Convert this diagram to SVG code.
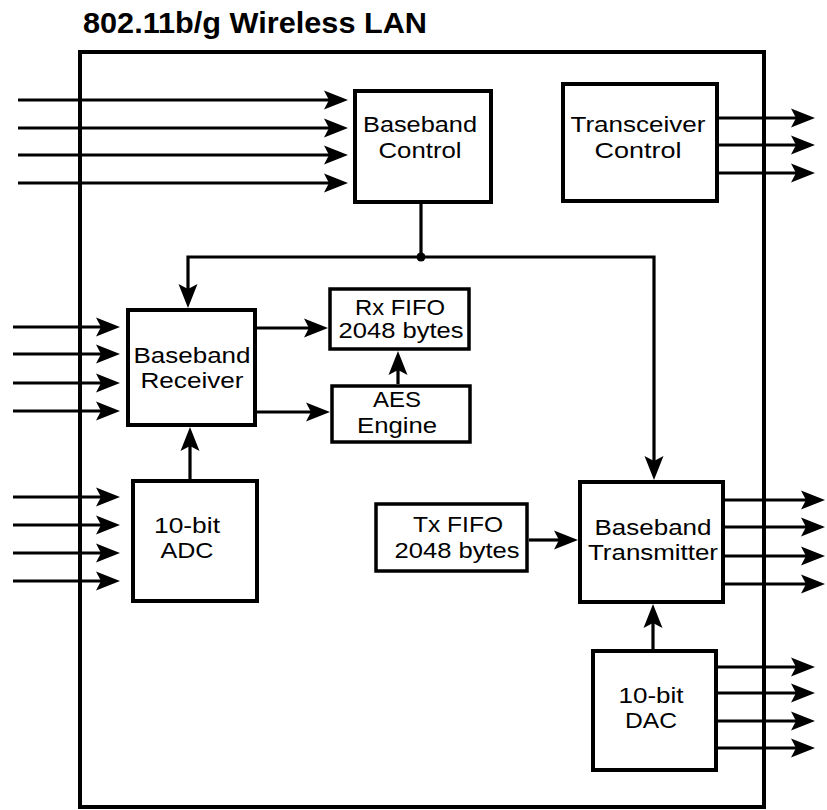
<svg xmlns="http://www.w3.org/2000/svg" width="827" height="810" viewBox="0 0 827 810">
<style>
.box{fill:#fff;stroke:#000;stroke-width:4}
.fifo{fill:#fff;stroke:#000;stroke-width:3.5}
.lbl{font-family:"Liberation Sans",Arial,sans-serif;font-size:22px;fill:#000;text-anchor:middle}
.title{font-family:"Liberation Sans",Arial,sans-serif;font-size:30px;font-weight:bold;fill:#000}
.wire{fill:none;stroke:#000;stroke-width:3.2}
.arr{fill:none;stroke:#000;stroke-width:3.2;marker-end:url(#ah)}
</style>
<defs>
<marker id="ah" markerUnits="userSpaceOnUse" markerWidth="24" markerHeight="20" viewBox="0 0 24 20" refX="5" refY="10" orient="auto">
<path d="M0,0.5 L24,10 L0,19.5 L5,10 z" fill="#000"/>
</marker>
</defs>
<rect width="827" height="810" fill="#fff"/>
<text class="title" x="83" y="33" textLength="344" lengthAdjust="spacingAndGlyphs">802.11b/g Wireless LAN</text>
<rect id="chip" x="80" y="52" width="684" height="755" fill="none" stroke="#000" stroke-width="4"/>

<g id="connectors">
<path class="arr" d="M18,100 H329"/>
<path class="arr" d="M18,128 H329"/>
<path class="arr" d="M18,155 H329"/>
<path class="arr" d="M18,183 H329"/>
<path class="arr" d="M719,118 H796"/>
<path class="arr" d="M719,145 H796"/>
<path class="arr" d="M719,173 H796"/>
<path class="wire" d="M421,204 V257"/>
<circle cx="421" cy="257" r="4.5" fill="#000"/>
<path class="arr" d="M421,257 H188 V289"/>
<path class="arr" d="M421,257 H654 V461"/>
<path class="arr" d="M13,327 H101"/>
<path class="arr" d="M13,354 H101"/>
<path class="arr" d="M13,383 H101"/>
<path class="arr" d="M13,411 H101"/>
<path class="arr" d="M257,328 H309"/>
<path class="arr" d="M257,412 H311"/>
<path class="arr" d="M398,384 V370"/>
<path class="arr" d="M190,479 V446"/>
<path class="arr" d="M13,497 H101"/>
<path class="arr" d="M13,525 H101"/>
<path class="arr" d="M13,553 H101"/>
<path class="arr" d="M13,581 H101"/>
<path class="arr" d="M529,540 H559"/>
<path class="arr" d="M725,500 H806"/>
<path class="arr" d="M725,527 H806"/>
<path class="arr" d="M725,556 H806"/>
<path class="arr" d="M725,584 H806"/>
<path class="arr" d="M653,649 V623"/>
<path class="arr" d="M718,667 H796"/>
<path class="arr" d="M718,693 H796"/>
<path class="arr" d="M718,721 H796"/>
<path class="arr" d="M718,748 H796"/>
</g>

<g id="baseband-control">
<rect class="box" x="355" y="91" width="136" height="111"/>
<text class="lbl" x="420" y="132" textLength="114" lengthAdjust="spacingAndGlyphs">Baseband</text>
<text class="lbl" x="420" y="158" textLength="83" lengthAdjust="spacingAndGlyphs">Control</text>
</g>
<g id="transceiver-control">
<rect class="box" x="563" y="84" width="154" height="117"/>
<text class="lbl" x="638" y="132" textLength="135" lengthAdjust="spacingAndGlyphs">Transceiver</text>
<text class="lbl" x="638" y="158" textLength="87" lengthAdjust="spacingAndGlyphs">Control</text>
</g>
<g id="baseband-receiver">
<rect class="box" x="128" y="310" width="127" height="115"/>
<text class="lbl" x="192" y="363" textLength="117" lengthAdjust="spacingAndGlyphs">Baseband</text>
<text class="lbl" x="192" y="388" textLength="103" lengthAdjust="spacingAndGlyphs">Receiver</text>
</g>
<g id="rx-fifo">
<rect class="fifo" x="330" y="289" width="139" height="60"/>
<text class="lbl" x="400" y="315" textLength="90" lengthAdjust="spacingAndGlyphs">Rx FIFO</text>
<text class="lbl" x="401" y="338" textLength="125" lengthAdjust="spacingAndGlyphs">2048 bytes</text>
</g>
<g id="aes-engine">
<rect class="fifo" x="332" y="386" width="138" height="56"/>
<text class="lbl" x="397" y="407" textLength="48" lengthAdjust="spacingAndGlyphs">AES</text>
<text class="lbl" x="397" y="433" textLength="80" lengthAdjust="spacingAndGlyphs">Engine</text>
</g>
<g id="adc">
<rect class="box" x="133" y="481" width="124" height="120"/>
<text class="lbl" x="187" y="533" textLength="66" lengthAdjust="spacingAndGlyphs">10-bit</text>
<text class="lbl" x="187" y="558" textLength="53" lengthAdjust="spacingAndGlyphs">ADC</text>
</g>
<g id="tx-fifo">
<rect class="fifo" x="376" y="504" width="151" height="67" stroke-width="3"/>
<text class="lbl" x="458" y="532" textLength="90" lengthAdjust="spacingAndGlyphs">Tx FIFO</text>
<text class="lbl" x="457" y="558" textLength="125" lengthAdjust="spacingAndGlyphs">2048 bytes</text>
</g>
<g id="baseband-transmitter">
<rect class="box" x="580" y="482" width="143" height="120"/>
<text class="lbl" x="653" y="535" textLength="117" lengthAdjust="spacingAndGlyphs">Baseband</text>
<text class="lbl" x="653" y="560" textLength="130" lengthAdjust="spacingAndGlyphs">Transmitter</text>
</g>
<g id="dac">
<rect class="box" x="593" y="651" width="123" height="119"/>
<text class="lbl" x="651" y="703" textLength="65" lengthAdjust="spacingAndGlyphs">10-bit</text>
<text class="lbl" x="651" y="728" textLength="52" lengthAdjust="spacingAndGlyphs">DAC</text>
</g>
</svg>
